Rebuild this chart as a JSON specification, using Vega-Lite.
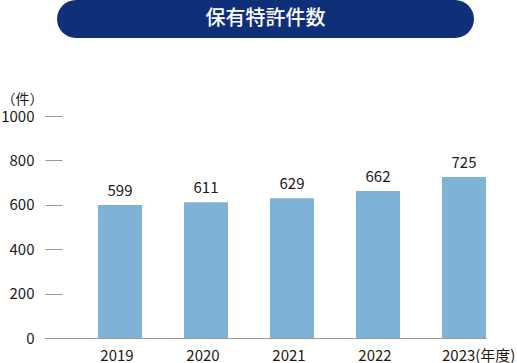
{
  "$schema": "https://vega.github.io/schema/vega-lite/v6.json",
  "padding": 0,
  "background": "white",
  "bounds": "flush",
  "center": true,
  "spacing": 78,
  "config": {"view": {"stroke": null}, "font": "Noto Sans CJK JP"},
  "vconcat": [
    {
      "width": 417,
      "height": 38,
      "data": {"values": [{"title": "保有特許件数"}]},
      "layer": [
        {"mark": {"type": "rect", "cornerRadius": 19, "color": "#0f3078"}, "encoding": {}},
        {
          "mark": {"type": "text", "color": "white", "fontSize": 20, "fontWeight": 500, "align": "center", "baseline": "middle"},
          "encoding": {"text": {"field": "title"}}
        }
      ]
    },
    {
      "width": 441,
      "height": 222,
      "data": {
        "values": [
          {"year": "2019", "count": 599},
          {"year": "2020", "count": 611},
          {"year": "2021", "count": 629},
          {"year": "2022", "count": 662},
          {"year": "2023", "count": 725}
        ]
      },
      "encoding": {
        "x": {
          "field": "year",
          "type": "ordinal",
          "scale": {"paddingInner": 0.488, "paddingOuter": 0.308, "align": 1},
          "axis": {
            "title": null,
            "labelAngle": 0,
            "ticks": false,
            "domainColor": "#999999",
            "labelFontSize": 15,
            "labelColor": "#231815",
            "labelPadding": 10,
            "labelExpr": "datum.value == '2023' ? '2023(年度)' : datum.label",
            "labelAlign": {"condition": {"test": "datum.value == '2023'", "value": "left"}, "value": "center"},
            "labelOffset": {"condition": {"test": "datum.value == '2023'", "value": -22}, "value": -3}
          }
        },
        "y": {
          "field": "count",
          "type": "quantitative",
          "scale": {"domain": [0, 1000], "nice": false},
          "axis": {
            "title": "（件）",
            "titleAngle": 0,
            "titleX": -23,
            "titleY": -17,
            "titlePadding": 0,
            "titleAlign": "center",
            "titleBaseline": "middle",
            "titleFontSize": 14,
            "titleFontWeight": "normal",
            "titleColor": "#231815",
            "domain": false,
            "grid": false,
            "tickSize": -17,
            "tickColor": "#999999",
            "values": [0, 200, 400, 600, 800, 1000],
            "format": "d",
            "labelFontSize": 15,
            "labelColor": "#231815",
            "labelPadding": 28,
            "labelFlush": false
          }
        }
      },
      "layer": [
        {"mark": {"type": "bar", "color": "#7fb2d7"}},
        {
          "mark": {"type": "text", "dy": -6, "baseline": "bottom", "fontSize": 15, "color": "#231815"},
          "encoding": {"text": {"field": "count", "type": "quantitative"}}
        }
      ]
    }
  ]
}
